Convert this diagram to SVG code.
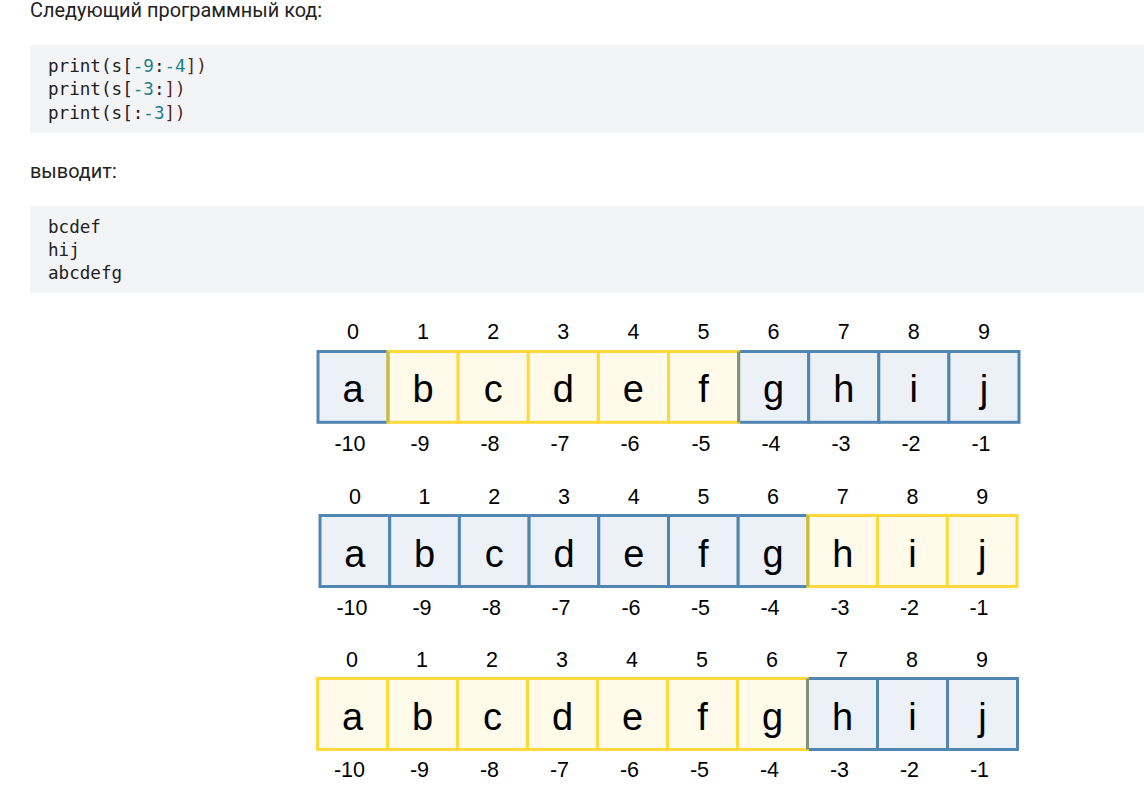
<svg xmlns="http://www.w3.org/2000/svg" width="1144" height="796" viewBox="0 0 1144 796">
<style>
.h{font-family:Roboto,"Noto Sans",sans-serif;font-size:19.9px;fill:#222}
.code{font-family:"DejaVu Sans Mono","Liberation Mono",monospace;font-size:17.6px;fill:#222}
.num{fill:#1f7f8a}
.br{fill:#5a2424}
.bg{fill:#f3f4f6}
.b{fill:#ecf1f7;stroke:#5286b2;stroke-width:3}
.y{fill:#fffae9;stroke:#ffd93b;stroke-width:3}
.mix1{stroke:#c8be3e;stroke-width:3}
.mix2{stroke:#7f9474;stroke-width:3}
.l{font-family:"Liberation Sans",Arial,sans-serif;font-size:38px;fill:#000;text-anchor:middle}
.i{font-family:"Liberation Sans",Arial,sans-serif;font-size:21.5px;fill:#000;text-anchor:middle}
</style>
<rect width="1144" height="796" fill="#fff"/>
<g id="text1"><text class="h" x="30" y="17">Следующий программный код:</text></g>
<g id="code1">
<rect class="bg" x="30" y="45" width="1114" height="88"/>
<text class="code" x="48" y="72">print(s[<tspan class="num">-9</tspan>:<tspan class="num">-4</tspan><tspan class="br">])</tspan></text>
<text class="code" x="48" y="95">print(s[<tspan class="num">-3</tspan>:<tspan class="br">])</tspan></text>
<text class="code" x="48" y="119">print(s[:<tspan class="num">-3</tspan><tspan class="br">])</tspan></text>
</g>
<g id="text2"><text class="h" x="30" y="178">выводит:</text></g>
<g id="code2">
<rect class="bg" x="30" y="206" width="1114" height="87"/>
<text class="code" x="48" y="233">bcdef</text>
<text class="code" x="48" y="256">hij</text>
<text class="code" x="48" y="279">abcdefg</text>
</g>
<g id="row1">
<rect class="b" x="318" y="351.5" width="70.1" height="70.8"/>
<rect class="b" x="738.6" y="351.5" width="70.1" height="70.8"/>
<rect class="b" x="808.7" y="351.5" width="70.1" height="70.8"/>
<rect class="b" x="878.8" y="351.5" width="70.1" height="70.8"/>
<rect class="b" x="948.9" y="351.5" width="70.1" height="70.8"/>
<rect class="y" x="388.1" y="351.5" width="70.1" height="70.8"/>
<rect class="y" x="458.2" y="351.5" width="70.1" height="70.8"/>
<rect class="y" x="528.3" y="351.5" width="70.1" height="70.8"/>
<rect class="y" x="598.4" y="351.5" width="70.1" height="70.8"/>
<rect class="y" x="668.5" y="351.5" width="70.1" height="70.8"/>
<line class="mix1" x1="388.1" y1="351.5" x2="388.1" y2="422.3"/>
<line class="mix2" x1="738.6" y1="351.5" x2="738.6" y2="422.3"/>
<text class="l" y="401.5"><tspan x="353">a</tspan><tspan x="423.1">b</tspan><tspan x="493.2">c</tspan><tspan x="563.3">d</tspan><tspan x="633.4">e</tspan><tspan x="703.5">f</tspan><tspan x="773.6">g</tspan><tspan x="843.7">h</tspan><tspan x="913.8">i</tspan><tspan x="983.9">j</tspan></text>
<text class="i" y="339"><tspan x="353">0</tspan><tspan x="423.1">1</tspan><tspan x="493.2">2</tspan><tspan x="563.3">3</tspan><tspan x="633.4">4</tspan><tspan x="703.5">5</tspan><tspan x="773.6">6</tspan><tspan x="843.7">7</tspan><tspan x="913.8">8</tspan><tspan x="983.9">9</tspan></text>
<text class="i" y="451"><tspan x="350">-10</tspan><tspan x="420">-9</tspan><tspan x="490">-8</tspan><tspan x="560">-7</tspan><tspan x="630">-6</tspan><tspan x="701">-5</tspan><tspan x="771">-4</tspan><tspan x="841">-3</tspan><tspan x="911">-2</tspan><tspan x="981">-1</tspan></text>
</g>
<g id="row2">
<rect class="b" x="320" y="515.5" width="69.7" height="71"/>
<rect class="b" x="389.7" y="515.5" width="69.7" height="71"/>
<rect class="b" x="459.4" y="515.5" width="69.7" height="71"/>
<rect class="b" x="529.1" y="515.5" width="69.7" height="71"/>
<rect class="b" x="598.8" y="515.5" width="69.7" height="71"/>
<rect class="b" x="668.5" y="515.5" width="69.7" height="71"/>
<rect class="b" x="738.2" y="515.5" width="69.7" height="71"/>
<rect class="y" x="807.9" y="515.5" width="69.7" height="71"/>
<rect class="y" x="877.6" y="515.5" width="69.7" height="71"/>
<rect class="y" x="947.3" y="515.5" width="69.7" height="71"/>
<line class="mix1" x1="807.9" y1="515.5" x2="807.9" y2="586.5"/>
<text class="l" y="567"><tspan x="354.9">a</tspan><tspan x="424.6">b</tspan><tspan x="494.3">c</tspan><tspan x="564">d</tspan><tspan x="633.7">e</tspan><tspan x="703.4">f</tspan><tspan x="773.1">g</tspan><tspan x="842.8">h</tspan><tspan x="912.5">i</tspan><tspan x="982.2">j</tspan></text>
<text class="i" y="503.5"><tspan x="354.9">0</tspan><tspan x="424.6">1</tspan><tspan x="494.3">2</tspan><tspan x="564">3</tspan><tspan x="633.7">4</tspan><tspan x="703.4">5</tspan><tspan x="773.1">6</tspan><tspan x="842.8">7</tspan><tspan x="912.5">8</tspan><tspan x="982.2">9</tspan></text>
<text class="i" y="614.5"><tspan x="352">-10</tspan><tspan x="422">-9</tspan><tspan x="491.5">-8</tspan><tspan x="561">-7</tspan><tspan x="631">-6</tspan><tspan x="700.5">-5</tspan><tspan x="770">-4</tspan><tspan x="840">-3</tspan><tspan x="909.5">-2</tspan><tspan x="979">-1</tspan></text>
</g>
<g id="row3">
<rect class="b" x="807.5" y="678.5" width="70" height="71"/>
<rect class="b" x="877.5" y="678.5" width="70" height="71"/>
<rect class="b" x="947.5" y="678.5" width="70" height="71"/>
<rect class="y" x="317.5" y="678.5" width="70" height="71"/>
<rect class="y" x="387.5" y="678.5" width="70" height="71"/>
<rect class="y" x="457.5" y="678.5" width="70" height="71"/>
<rect class="y" x="527.5" y="678.5" width="70" height="71"/>
<rect class="y" x="597.5" y="678.5" width="70" height="71"/>
<rect class="y" x="667.5" y="678.5" width="70" height="71"/>
<rect class="y" x="737.5" y="678.5" width="70" height="71"/>
<line class="mix2" x1="807.5" y1="678.5" x2="807.5" y2="749.5"/>
<text class="l" y="730"><tspan x="352.5">a</tspan><tspan x="422.5">b</tspan><tspan x="492.5">c</tspan><tspan x="562.5">d</tspan><tspan x="632.5">e</tspan><tspan x="702.5">f</tspan><tspan x="772.5">g</tspan><tspan x="842.5">h</tspan><tspan x="912.5">i</tspan><tspan x="982.5">j</tspan></text>
<text class="i" y="667"><tspan x="352">0</tspan><tspan x="422">1</tspan><tspan x="492">2</tspan><tspan x="562">3</tspan><tspan x="632">4</tspan><tspan x="702">5</tspan><tspan x="772">6</tspan><tspan x="842">7</tspan><tspan x="912">8</tspan><tspan x="982">9</tspan></text>
<text class="i" y="777"><tspan x="349.5">-10</tspan><tspan x="419.5">-9</tspan><tspan x="489.5">-8</tspan><tspan x="559.5">-7</tspan><tspan x="629.5">-6</tspan><tspan x="699.5">-5</tspan><tspan x="769.5">-4</tspan><tspan x="839.5">-3</tspan><tspan x="909.5">-2</tspan><tspan x="979.5">-1</tspan></text>
</g>
</svg>
